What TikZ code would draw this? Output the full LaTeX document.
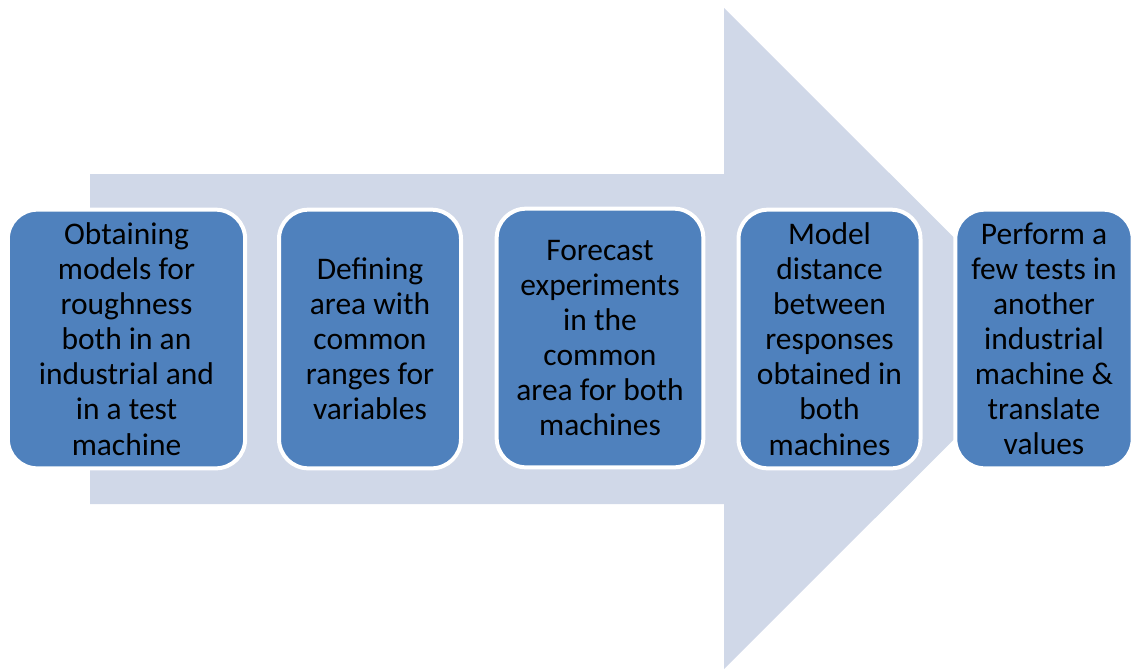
\documentclass[tikz,border=0pt]{standalone}
\usepackage{fontspec}
\setmainfont{Carlito}
\usepackage{tikz}
\usetikzlibrary{positioning}
\definecolor{arrowgray}{HTML}{D0D8E8}
\definecolor{boxblue}{HTML}{4F81BD}

\begin{document}
\begin{tikzpicture}[
			x=0.75pt, y=-0.75pt,
			stepbox/.style={rectangle,rounded corners=22pt,fill=boxblue,draw=white,line width=3pt,
				align=center,text=black,inner sep=0pt,minimum height=194pt,
				font=\fontsize{23.6}{26.3}\selectfont},
			]
			\useasboundingbox (0,0) rectangle (1132,669);
			% big arrow behind the steps
			\fill [arrowgray] (90,174) -- (724,174) -- (724,8) -- (1055,338.5) -- (724,669)
				-- (724,504) -- (90,504) -- cycle;
			\node [stepbox,minimum width=178pt] (obtain) at (126.5,339) {Obtaining\\ models for\\ roughness\\ both in an\\ industrial and\\ in a test\\ machine};
			\node [stepbox,minimum width=136.5pt] (define) at (370,339) {Defining\\ area with\\ common\\ ranges for\\ variables};
			\node [stepbox,minimum width=155pt] (forecast) at (600,338) {Forecast\\ experiments\\ in the\\ common\\ area for both\\ machines};
			\node [stepbox,minimum width=136.5pt] (distance) at (829.5,339) {Model\\ distance\\ between\\ responses\\ obtained in\\ both\\ machines};
			\node [stepbox,minimum width=133pt] (perform) at (1044,339) {Perform a\\ few tests in\\ another\\ industrial\\ machine \&\\ translate\\ values};
		\end{tikzpicture}
\end{document}
